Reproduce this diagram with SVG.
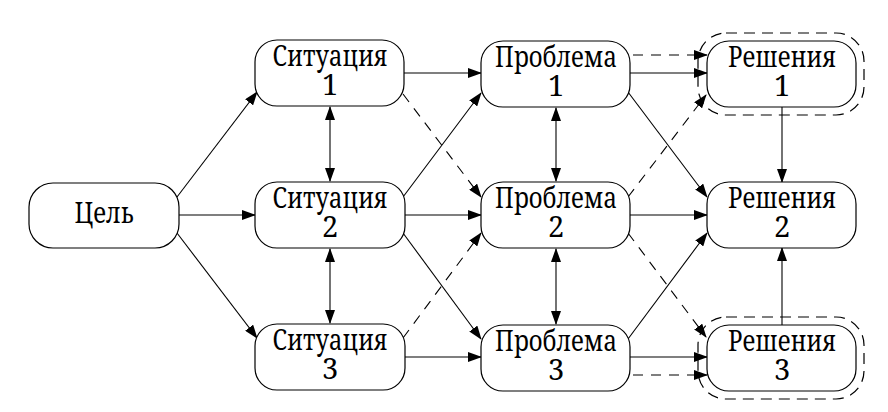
<svg xmlns="http://www.w3.org/2000/svg" width="888" height="412" viewBox="0 0 888 412">
<defs>
<marker id="ah" markerWidth="14" markerHeight="10" refX="13" refY="5" orient="auto-start-reverse" markerUnits="userSpaceOnUse">
<path d="M0,0 L14,5 L0,10 z" fill="#000"/>
</marker>
</defs>
<style>
.box{fill:#fff;stroke:#000;stroke-width:1.2}
.outer{fill:none;stroke:#000;stroke-width:1.2;stroke-dasharray:11 7}
.t{font-family:"Noto Serif","Liberation Serif",serif;font-size:29px;text-anchor:middle;fill:#000}
.c line{stroke:#000;stroke-width:1.1;fill:none}
.c .a{marker-end:url(#ah)}
.c .b{marker-start:url(#ah);marker-end:url(#ah)}
.c .d{stroke-dasharray:10 8}
</style>
<rect width="888" height="412" fill="#fff"/>
<g class="c" id="connectors">
<line class="a" x1="177" y1="197" x2="257" y2="92"/>
<line class="a" x1="179" y1="215" x2="255" y2="215"/>
<line class="a" x1="177" y1="233" x2="257" y2="338"/>
<line class="b" x1="330" y1="107" x2="330" y2="181"/>
<line class="b" x1="330" y1="249" x2="330" y2="323"/>
<line class="a" x1="404" y1="73" x2="481" y2="73"/>
<line class="a d" x1="403" y1="94" x2="481" y2="197"/>
<line class="a" x1="403" y1="197" x2="481" y2="93"/>
<line class="a" x1="405" y1="215" x2="481" y2="215"/>
<line class="a" x1="403" y1="233" x2="481" y2="339"/>
<line class="a d" x1="403" y1="338" x2="481" y2="233"/>
<line class="a" x1="405" y1="357" x2="481" y2="357"/>
<line class="b" x1="556" y1="108" x2="556" y2="181"/>
<line class="b" x1="556" y1="249" x2="556" y2="324"/>
<line class="a d" x1="633" y1="55" x2="707" y2="55"/>
<line class="a" x1="630" y1="73" x2="707" y2="73"/>
<line class="a" x1="628" y1="92" x2="707" y2="197"/>
<line class="a d" x1="628" y1="197" x2="706" y2="95"/>
<line class="a" x1="630" y1="215" x2="707" y2="215"/>
<line class="a d" x1="628" y1="233" x2="706" y2="337"/>
<line class="a" x1="628" y1="339" x2="707" y2="233"/>
<line class="a" x1="630" y1="357" x2="707" y2="357"/>
<line class="a d" x1="633" y1="375" x2="707" y2="375"/>
<line class="a" x1="782" y1="107" x2="782" y2="182"/>
<line class="a" x1="782" y1="325" x2="782" y2="248"/>
</g>
<g id="tsel"><rect class="box" x="29" y="183" width="150" height="65" rx="24"/><text class="t" x="104" y="223" textLength="59" lengthAdjust="spacingAndGlyphs">Цель</text></g>
<g id="sit1"><rect class="box" x="255" y="40" width="149" height="66" rx="22"/><text class="t" x="330" y="66" textLength="115" lengthAdjust="spacingAndGlyphs">Ситуация</text><text class="t" x="330" y="95">1</text></g>
<g id="sit2"><rect class="box" x="255" y="182" width="150" height="66" rx="22"/><text class="t" x="330" y="208" textLength="115" lengthAdjust="spacingAndGlyphs">Ситуация</text><text class="t" x="330" y="237">2</text></g>
<g id="sit3"><rect class="box" x="255" y="324" width="150" height="66" rx="22"/><text class="t" x="330" y="350" textLength="115" lengthAdjust="spacingAndGlyphs">Ситуация</text><text class="t" x="330" y="379">3</text></g>
<g id="prob1"><rect class="box" x="481" y="41" width="149" height="66" rx="22"/><text class="t" x="556" y="67" textLength="122" lengthAdjust="spacingAndGlyphs">Проблема</text><text class="t" x="556" y="96">1</text></g>
<g id="prob2"><rect class="box" x="481" y="182" width="149" height="66" rx="22"/><text class="t" x="556" y="208" textLength="122" lengthAdjust="spacingAndGlyphs">Проблема</text><text class="t" x="556" y="237">2</text></g>
<g id="prob3"><rect class="box" x="481" y="325" width="149" height="66" rx="22"/><text class="t" x="556" y="351" textLength="122" lengthAdjust="spacingAndGlyphs">Проблема</text><text class="t" x="556" y="380">3</text></g>
<g id="resh1"><rect class="outer" x="698" y="33" width="166" height="82" rx="28"/><rect class="box" x="707" y="41" width="149" height="66" rx="22"/><text class="t" x="782" y="67" textLength="108" lengthAdjust="spacingAndGlyphs">Решения</text><text class="t" x="782" y="96">1</text></g>
<g id="resh2"><rect class="box" x="707" y="182" width="149" height="66" rx="22"/><text class="t" x="782" y="208" textLength="108" lengthAdjust="spacingAndGlyphs">Решения</text><text class="t" x="782" y="237">2</text></g>
<g id="resh3"><rect class="outer" x="698" y="317" width="166" height="82" rx="28"/><rect class="box" x="707" y="325" width="149" height="66" rx="22"/><text class="t" x="782" y="351" textLength="108" lengthAdjust="spacingAndGlyphs">Решения</text><text class="t" x="782" y="380">3</text></g>
</svg>
